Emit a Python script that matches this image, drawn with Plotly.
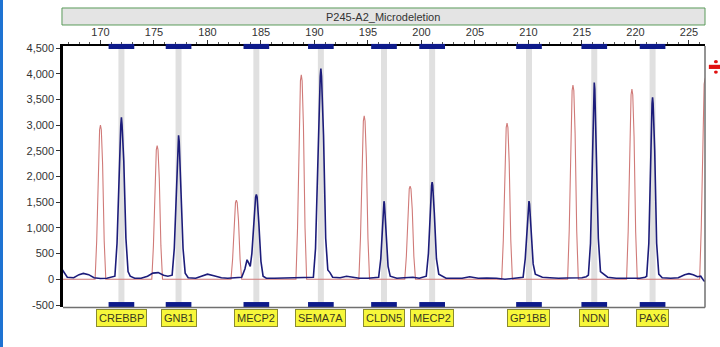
import plotly.graph_objects as go

# ---------------- data ----------------
title_text = "P245-A2_Microdeletion"
probe_names = ["CREBBP", "GNB1", "MECP2", "SEMA7A", "CLDN5", "MECP2", "GP1BB", "NDN", "PAX6"]
probe_pos = [171.96, 177.3, 184.57, 190.6, 196.5, 201.0, 210.05, 216.15, 221.6]

x_ticks = [170, 175, 180, 185, 190, 195, 200, 205, 210, 215, 220, 225]
y_ticks = [-500, 0, 500, 1000, 1500, 2000, 2500, 3000, 3500, 4000, 4500]
y_tick_labels = ["-500", "0", "500", "1,000", "1,500", "2,000", "2,500", "3,000", "3,500", "4,000", "4,500"]

# sample (blue) trace
blue_x = [166.4, 166.9, 167.5, 168.0, 168.4, 168.9, 169.4, 170.0, 170.6, 171.1,
          171.35, 171.55, 171.75, 171.9, 171.96, 172.02, 172.18, 172.38, 172.58, 172.78, 173.2,
          173.8, 174.4, 174.9, 175.4, 175.9, 176.3,
          176.7, 176.9, 177.1, 177.24, 177.3, 177.36, 177.52, 177.72, 177.92, 178.2,
          178.9, 179.5, 180.0, 180.6, 181.3, 181.9, 182.6,
          183.2, 183.5, 183.7, 183.85, 184.0, 184.15, 184.35, 184.5, 184.57, 184.64, 184.8, 185.0, 185.2, 185.5,
          186.3, 187.0, 187.8, 188.5, 189.3,
          189.9, 190.1, 190.35, 190.54, 190.6, 190.66, 190.85, 191.05, 191.25, 191.45, 191.7,
          192.4, 193.0, 193.5, 194.2, 195.0, 195.6,
          196.0, 196.2, 196.36, 196.46, 196.5, 196.54, 196.68, 196.88, 197.08, 197.3, 197.7,
          198.4, 199.2, 199.8, 200.3,
          200.45, 200.65, 200.83, 200.95, 201.0, 201.05, 201.2, 201.4, 201.62, 201.9, 202.3,
          203.0, 203.8, 204.5, 205.3, 206.1, 207.0, 207.8, 208.5, 209.2,
          209.5, 209.7, 209.89, 210.0, 210.05, 210.1, 210.24, 210.44, 210.64, 210.9, 211.3,
          212.0, 212.8, 213.6, 214.4, 215.0, 215.4,
          215.6, 215.8, 215.98, 216.1, 216.15, 216.2, 216.35, 216.53, 216.73, 217.0, 217.4,
          218.2, 219.0, 219.8, 220.4, 220.9,
          221.05, 221.25, 221.42, 221.55, 221.6, 221.65, 221.8, 221.98, 222.18, 222.5,
          223.3, 224.0, 224.6, 225.0, 225.4, 225.8, 226.1, 226.4, 226.6]
blue_y = [200, 40, 30, 90, 115, 90, 30, 15, 20, 40,
          60, 700, 2200, 3000, 3150, 3000, 2300, 800, 150, 60, 20,
          20, 60, 120, 130, 80, 60,
          80, 600, 1900, 2680, 2800, 2680, 1900, 600, 120, 30,
          20, 60, 100, 70, 30, 20, 30,
          40, 200, 380, 320, 250, 500, 1200, 1600, 1650, 1600, 1100, 350, 60, 20,
          20, 25, 20, 25, 30,
          40, 600, 2700, 3950, 4100, 3950, 2800, 800, 180, 130, 40,
          30, 60, 40, 20, 20, 30,
          40, 400, 1100, 1470, 1520, 1470, 1000, 250, 60, 50, 20,
          30, 40, 20, 40,
          60, 500, 1400, 1830, 1890, 1830, 1300, 400, 100, 60, 20,
          20, 20, 50, 20, 25, 20, 0, 15, 20,
          40, 400, 1100, 1470, 1520, 1470, 1000, 300, 100, 80, 40,
          30, 20, 25, 20, 30, 50,
          80, 700, 2700, 3700, 3830, 3700, 2600, 800, 150, 100, 40,
          20, 20, 30, 20, 40,
          60, 700, 2500, 3420, 3540, 3420, 2500, 700, 100, 30,
          20, 30, 90, 110, 90, 50, 60, -30, -40]

# reference (red) trace
red_x = [166.4,
         169.5, 169.65, 169.8, 169.92, 170.0, 170.08, 170.2, 170.35, 170.5,
         174.8, 174.95, 175.1, 175.22, 175.3, 175.38, 175.5, 175.65, 175.8,
         182.2, 182.35, 182.5, 182.62, 182.7, 182.78, 182.9, 183.05, 183.2,
         188.27, 188.42, 188.57, 188.69, 188.77, 188.85, 188.97, 189.12, 189.27,
         194.15, 194.3, 194.45, 194.57, 194.65, 194.73, 194.85, 195.0, 195.15,
         198.44, 198.59, 198.74, 198.86, 198.94, 199.02, 199.14, 199.29, 199.44,
         207.5, 207.65, 207.8, 207.92, 208.0, 208.08, 208.2, 208.35, 208.5,
         213.66, 213.81, 213.96, 214.08, 214.16, 214.24, 214.36, 214.51, 214.66,
         219.17, 219.32, 219.47, 219.59, 219.67, 219.75, 219.87, 220.02, 220.17,
         226.0, 226.15, 226.3, 226.42, 226.5, 226.6]
red_y = [0,
         0, 750, 2250, 2910, 3000, 2910, 2250, 750, 0,
         0, 650, 1950, 2520, 2600, 2520, 1950, 650, 0,
         0, 385, 1150, 1490, 1540, 1490, 1150, 385, 0,
         0, 1000, 2990, 3860, 3980, 3860, 2990, 1000, 0,
         0, 800, 2380, 3080, 3180, 3080, 2380, 800, 0,
         0, 450, 1360, 1760, 1810, 1760, 1360, 450, 0,
         0, 760, 2280, 2950, 3040, 2950, 2280, 760, 0,
         0, 950, 2840, 3670, 3780, 3670, 2840, 950, 0,
         0, 925, 2780, 3590, 3700, 3590, 2780, 925, 0,
         0, 1000, 2950, 3800, 3900, 3950]

# ---------------- figure ----------------
FONT = "Liberation Sans"
fig = go.Figure()

fig.add_trace(go.Scatter(x=red_x, y=red_y, mode="lines",
                         line=dict(color="#d07a78", width=1.1), hoverinfo="skip"))
fig.add_trace(go.Scatter(x=blue_x, y=blue_y, mode="lines",
                         line=dict(color="#1c1c7a", width=1.6), hoverinfo="skip"))

shapes = []
for p in probe_pos:
    # grey band behind peak
    shapes.append(dict(type="rect", xref="x", yref="paper", x0=p - 0.28, x1=p + 0.28,
                       y0=0, y1=1, fillcolor="#e0e0e0", line=dict(width=0), layer="below"))
    # navy marker bars at top and bottom
    shapes.append(dict(type="rect", xref="x", yref="paper", x0=p - 1.2, x1=p + 1.2,
                       y0=0.9885, y1=1.008, fillcolor="#0d1a8a", line=dict(width=0), layer="above"))
    shapes.append(dict(type="rect", xref="x", yref="paper", x0=p - 1.2, x1=p + 1.2,
                       y0=-0.002, y1=0.019, fillcolor="#0d1a8a", line=dict(width=0), layer="above"))

# right and bottom grey frame
shapes.append(dict(type="line", xref="paper", yref="paper", x0=1, x1=1, y0=-0.002, y1=1,
                   line=dict(color="#707070", width=1.5)))
shapes.append(dict(type="line", xref="paper", yref="paper", x0=0, x1=1, y0=-0.002, y1=-0.002,
                   line=dict(color="#707070", width=1.5)))
# header box
shapes.append(dict(type="rect", xref="paper", yref="paper", x0=-0.0016, x1=1.0,
                   y0=1.0805, y1=1.1456, fillcolor="#e4e4e4", line=dict(color="#5a9a5a", width=1)))
# blue frame at image left
shapes.append(dict(type="line", xref="paper", yref="paper", x0=-0.0958, x1=-0.0958, y0=-0.2, y1=1.2,
                   line=dict(color="#1e73d2", width=3)))
# red arrow marker at right
shapes.append(dict(type="rect", xref="paper", yref="paper", x0=1.006, x1=1.03, y0=0.912, y1=0.928,
                   fillcolor="#e01010", line=dict(width=0)))
shapes.append(dict(type="circle", xref="paper", yref="paper", x0=1.014, x1=1.02, y0=0.934, y1=0.946,
                   fillcolor="#e01010", line=dict(width=0)))
shapes.append(dict(type="circle", xref="paper", yref="paper", x0=1.014, x1=1.02, y0=0.894, y1=0.906,
                   fillcolor="#e01010", line=dict(width=0)))

annotations = [dict(text=title_text, xref="paper", yref="paper", x=0.499, y=1.113,
                    xanchor="center", yanchor="middle",
                    showarrow=False, font=dict(family=FONT, size=11, color="#333333"))]
for name, p in zip(probe_names, probe_pos):
    annotations.append(dict(text=name, xref="x", yref="paper", x=p, y=-0.044,
                            showarrow=False, xanchor="center", yanchor="middle",
                            font=dict(family=FONT, size=11, color="#3a3a20"),
                            bgcolor="#f7f73a", bordercolor="#8a8a30", borderwidth=1, borderpad=2))

fig.update_layout(
    width=720, height=347,
    margin=dict(l=63, r=15, t=46, b=40),
    paper_bgcolor="white", plot_bgcolor="white",
    showlegend=False,
    shapes=shapes, annotations=annotations,
    xaxis=dict(side="top", range=[166.5, 226.5], tickvals=x_ticks,
               ticks="outside", ticklen=4, tickcolor="#333333",
               showline=True, linecolor="black", linewidth=2,
               showgrid=False, zeroline=False,
               tickfont=dict(family=FONT, size=11, color="#333333"),
               minor=dict(dtick=1, ticks="outside", ticklen=2, tickcolor="#555555")),
    yaxis=dict(range=[-539, 4539], tickvals=y_ticks, ticktext=y_tick_labels,
               ticks="outside", ticklen=4, tickcolor="#333333",
               showline=True, linecolor="black", linewidth=2.5,
               showgrid=False, zeroline=False,
               tickfont=dict(family=FONT, size=11, color="#333333")),
)

fig.write_html("out.html", config={"displayModeBar": False},
               post_script="document.body.style.margin='0';document.body.style.overflow='hidden';")
